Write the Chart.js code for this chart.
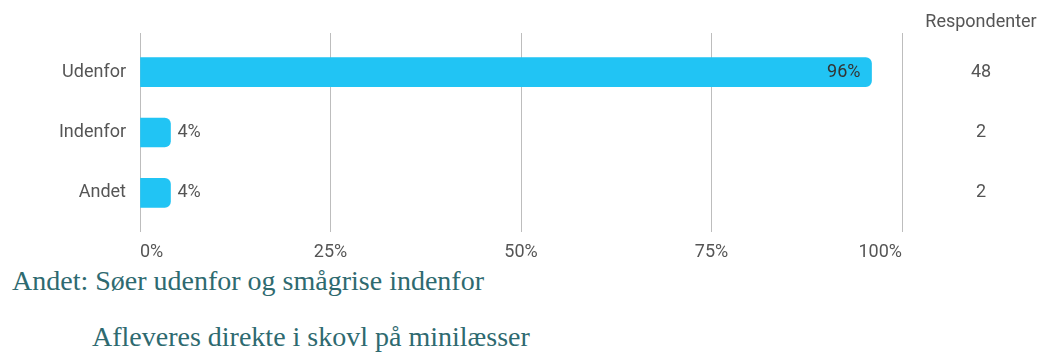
<!DOCTYPE html>
<html>
<head>
<meta charset="utf-8">
<script src="https://cdn.jsdelivr.net/npm/chart.js@4/dist/chart.umd.min.js"></script>
<style>
    body { margin: 0; background: #fff; }
    #wrap { position: relative; width: 1053px; height: 358px; }
    #chart { position: absolute; left: 0; top: 0; }
    .note {
        position: absolute;
        font-family: "Liberation Serif", "Times New Roman", serif;
        font-size: 28px;
        line-height: 32px;
        color: #2e6a70;
        white-space: nowrap;
    }
</style>
</head>
<body>
<div id="wrap">
    <canvas id="chart" width="1053" height="262"></canvas>
    <div class="note" style="left: 12px; top: 265px;">Andet: Søer udenfor og smågrise indenfor</div>
    <div class="note" style="left: 92px; top: 321px;">Afleveres direkte i skovl på minilæsser</div>
</div>
<script>
const categories = ["Udenfor", "Indenfor", "Andet"];
const percents = [96, 4, 4];
const respondents = [48, 2, 2];
const xTicks = [0, 25, 50, 75, 100];

const textColor = "#555";
const font = { family: "Roboto, 'Noto Sans', sans-serif", size: 18 };

// percentage label at the end of each bar
const barLabels = {
    id: "barLabels",
    afterDatasetsDraw(chart) {
        const ctx = chart.ctx;
        const meta = chart.getDatasetMeta(0);
        ctx.save();
        ctx.font = `${font.size}px ${font.family}`;
        ctx.textBaseline = "middle";
        meta.data.forEach((bar, i) => {
            const text = percents[i] + "%";
            if (percents[i] > 50) {
                ctx.fillStyle = "#333";
                ctx.textAlign = "right";
                ctx.fillText(text, bar.x - 11, bar.y);
            } else {
                ctx.fillStyle = textColor;
                ctx.textAlign = "left";
                ctx.fillText(text, bar.x + 7, bar.y);
            }
        });
        ctx.restore();
    },
};

// respondent counts to the right of the plot
const countColumn = {
    id: "countColumn",
    afterDraw(chart) {
        const ctx = chart.ctx;
        const y = chart.scales.y;
        const cx = 981;
        ctx.save();
        ctx.font = `${font.size}px ${font.family}`;
        ctx.fillStyle = textColor;
        ctx.textAlign = "center";
        ctx.textBaseline = "middle";
        ctx.fillText("Respondenter", cx, 22);
        respondents.forEach((n, i) => {
            ctx.fillText(String(n), cx, y.getPixelForValue(i));
        });
        ctx.restore();
    },
};

new Chart(document.getElementById("chart"), {
    type: "bar",
    data: {
        datasets: [
            {
                data: percents.map((v, i) => ({ x: v, y: i })),
                backgroundColor: "#21c4f4",
                borderRadius: 6,
                borderSkipped: "start",
                barThickness: 29,
            },
        ],
    },
    options: {
        indexAxis: "y",
        responsive: false,
        animation: false,
        layout: {
            padding: { left: 0, right: 151, top: 33, bottom: 0 },
        },
        plugins: {
            legend: { display: false },
            tooltip: { enabled: false },
        },
        scales: {
            x: {
                type: "linear",
                min: 0,
                max: 100,
                afterBuildTicks: (s) => {
                    s.ticks = xTicks.map((v) => ({ value: v }));
                },
                afterFit: (s) => {
                    s.height = 30;
                },
                grid: {
                    color: "#bdbdbd",
                    lineWidth: 1,
                    drawTicks: false,
                },
                border: { display: false },
                ticks: {
                    align: "inner",
                    padding: 10,
                    color: textColor,
                    font: font,
                    callback: (v) => v + "%",
                },
            },
            y: {
                type: "linear",
                reverse: true,
                offset: false,
                min: -0.65,
                max: 2.65,
                afterBuildTicks: (s) => {
                    s.ticks = categories.map((c, i) => ({ value: i }));
                },
                afterFit: (s) => {
                    s.width = 140;
                },
                grid: { display: false, offset: false },
                border: { display: false },
                ticks: {
                    padding: 6,
                    color: textColor,
                    font: font,
                    callback: (v) => categories[v] ?? "",
                },
            },
        },
    },
    plugins: [barLabels, countColumn],
});
</script>
</body>
</html>
